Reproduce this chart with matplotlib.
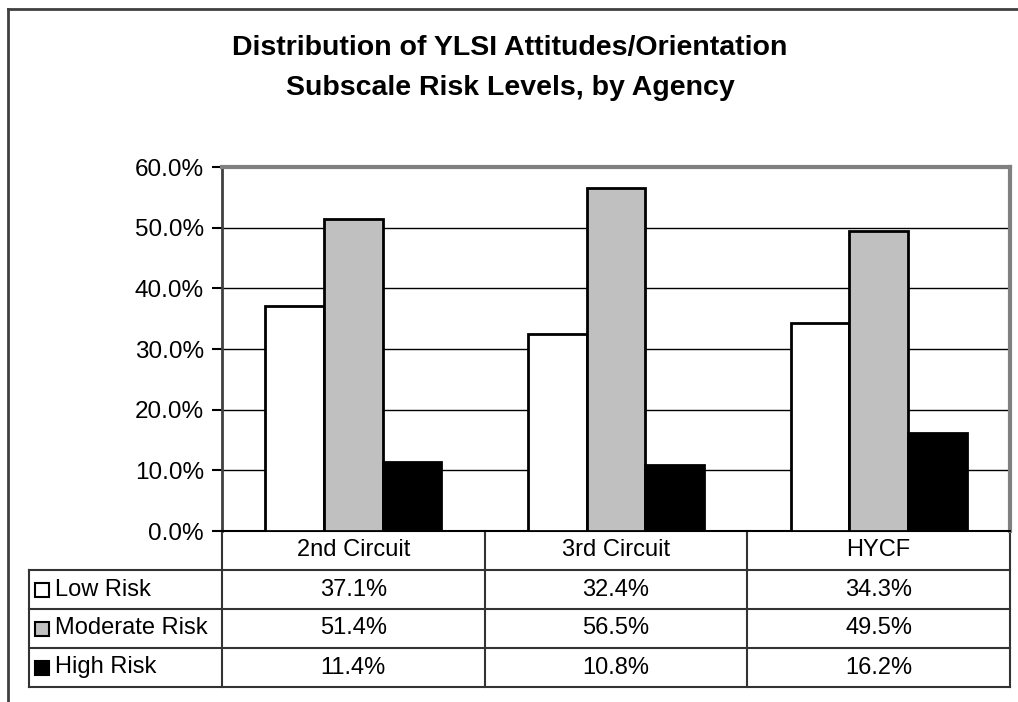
import numpy as np
import matplotlib
matplotlib.use("Agg")
import matplotlib.pyplot as plt
from matplotlib.patches import Rectangle
from matplotlib.lines import Line2D
from matplotlib.transforms import blended_transform_factory

plt.rcParams['font.family'] = ['Liberation Sans', 'DejaVu Sans']

# data
agencies = ['2nd Circuit', '3rd Circuit', 'HYCF']
levels = ['Low Risk', 'Moderate Risk', 'High Risk']
low_risk = [37.1, 32.4, 34.3]
moderate_risk = [51.4, 56.5, 49.5]
high_risk = [11.4, 10.8, 16.2]
yticks = [0, 10, 20, 30, 40, 50, 60]

series = [low_risk, moderate_risk, high_risk]
colors = ['white', '#c0c0c0', 'black']

W, H = 1018, 702
fig = plt.figure(figsize=(W / 100, H / 100), dpi=100)
ax = fig.add_axes([222 / W, (H - 531) / H, 788 / W, 364 / H])

x = np.arange(len(agencies))
bw = 59 / 264
for i in range(len(series)):
    ax.bar(x + (i - 1) * bw, series[i], bw, color=colors[i],
           edgecolor='black', linewidth=2, zorder=3)

ax.set_xlim(-0.5, len(agencies) - 0.5)
ax.set_ylim(0, 60)
ax.set_yticks(yticks)
ax.set_yticklabels(['%.1f%%' % v for v in yticks])
ax.set_xticks([])
ax.yaxis.grid(True, color='black', linewidth=1)
ax.set_axisbelow(True)
ax.tick_params(axis='y', direction='out', length=7, width=1.5,
               labelsize=17.5, pad=6)
ax.spines['left'].set_color('#404040')
ax.spines['left'].set_linewidth(2)
ax.spines['bottom'].set_color('black')
ax.spines['bottom'].set_linewidth(1.5)
for s in ['top', 'right']:
    ax.spines[s].set_color('#808080')
    ax.spines[s].set_linewidth(3)

# data table under the axes
row_h = 39 / 364
tab_left = (29 - 222) / 788
nrows = len(levels) + 1
lc = '#333333'
for k in range(1, nrows + 1):
    ax.add_line(Line2D([tab_left, 1], [-k * row_h, -k * row_h], color=lc,
                       lw=1.5, transform=ax.transAxes, clip_on=False))
for k in range(len(agencies) + 1):
    xx = k / len(agencies)
    ax.add_line(Line2D([xx, xx], [0, -nrows * row_h], color=lc, lw=1.5,
                       transform=ax.transAxes, clip_on=False))
ax.add_line(Line2D([tab_left, tab_left], [-row_h, -nrows * row_h], color=lc,
                   lw=1.5, transform=ax.transAxes, clip_on=False))

trans = blended_transform_factory(ax.transData, ax.transAxes)
for i, name in enumerate(agencies):
    ax.text(x[i], -row_h / 2, name, transform=trans, ha='center',
            va='center', fontsize=17)
for j in range(len(levels)):
    yc = -(j + 1.5) * row_h
    for i in range(len(agencies)):
        ax.text(x[i], yc, '%.1f%%' % series[j][i], transform=trans,
                ha='center', va='center', fontsize=17)
    ax.add_patch(Rectangle(((35 - 222) / 788, yc - 7 / 364), 14 / 788, 14 / 364,
                           facecolor=colors[j], edgecolor='black', lw=1.5,
                           transform=ax.transAxes, clip_on=False))
    ax.text((55 - 222) / 788, yc, levels[j], transform=ax.transAxes,
            ha='left', va='center', fontsize=17)

# outer chart border
fig.add_artist(Line2D([8 / W, 8 / W], [0, (H - 9) / H], color='#404040',
                      lw=2, transform=fig.transFigure))
fig.add_artist(Line2D([8 / W, 1], [(H - 9) / H, (H - 9) / H], color='#404040',
                      lw=2, transform=fig.transFigure))

fig.text(510 / W, 1 - 48 / H, 'Distribution of YLSI Attitudes/Orientation',
         ha='center', va='center', fontsize=20.5, fontweight='bold')
fig.text(510 / W, 1 - 88 / H, 'Subscale Risk Levels, by Agency',
         ha='center', va='center', fontsize=20.5, fontweight='bold')

fig.savefig('out.png', dpi=100)
